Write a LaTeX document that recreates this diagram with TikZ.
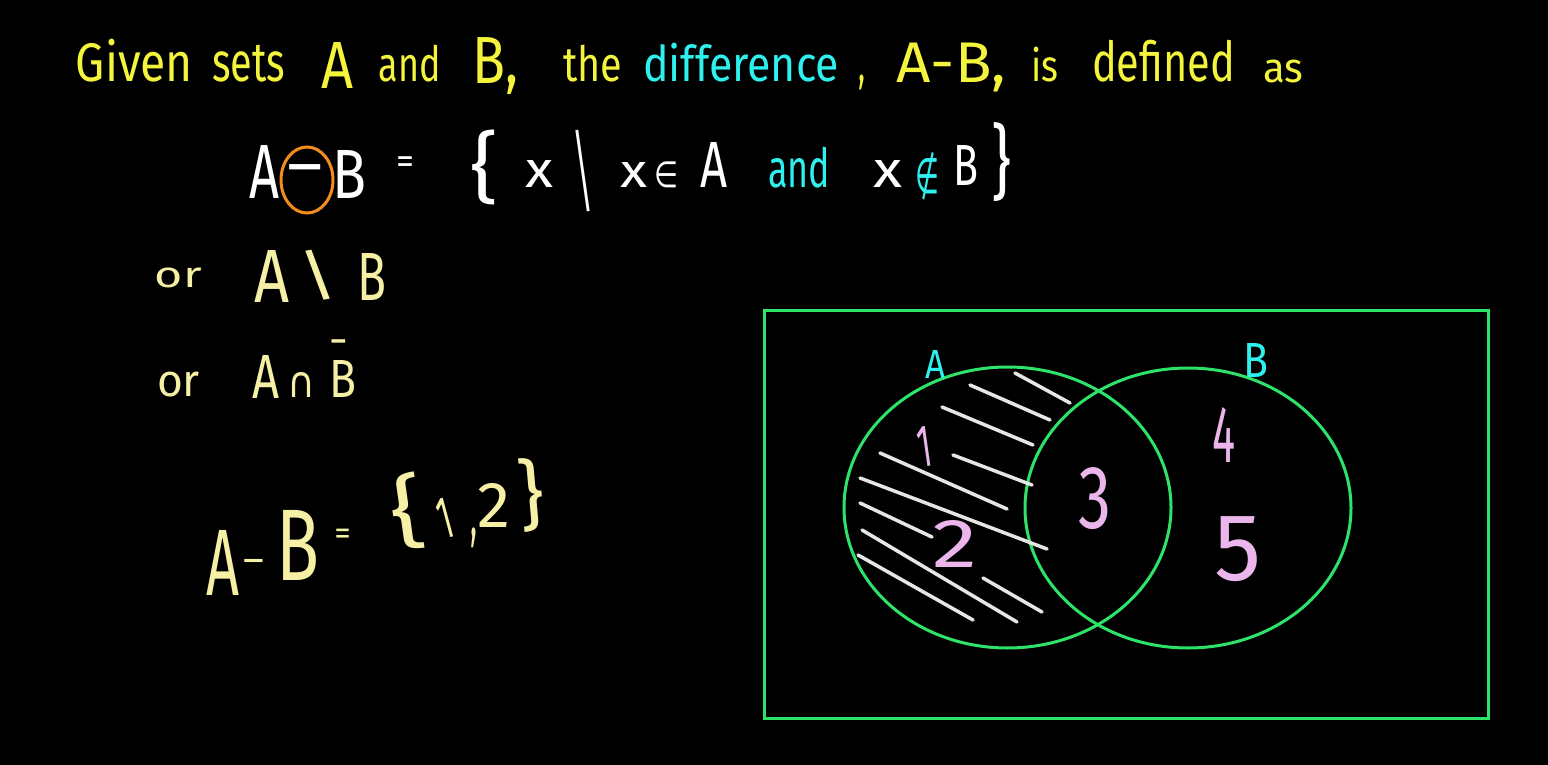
\documentclass[tikz,border=0pt]{standalone}
\usepackage{fontspec}
\setmainfont{Fira Sans}
\newfontfamily\sym{DejaVu Sans}
\usetikzlibrary{shapes.geometric}
\definecolor{hy}{HTML}{F4F43C}
\definecolor{hc}{HTML}{2EF0EE}
\definecolor{hcr}{HTML}{F6F0A6}
\definecolor{hp}{HTML}{EBB6EB}
\definecolor{hg}{HTML}{2EE36A}
\definecolor{ho}{HTML}{F28C1C}
\definecolor{hh}{HTML}{E6E6E6}
\newcommand\rb[3]{\resizebox*{#1pt}{#2pt}{#3}}
\begin{document}
\begin{tikzpicture}[x=1pt,y=-1pt,
  tx/.style={inner sep=0pt,outer sep=0pt},
  bs/.style={inner sep=0pt,outer sep=0pt,anchor=base},
  setc/.style={ellipse,draw=hg,line width=3pt,inner sep=0pt},
  hatch/.style={draw=hh,line width=3.5pt,line cap=round}]
\fill[black] (0,0) rectangle (1548,765);
\useasboundingbox (0,0) rectangle (1548,765);
% line 1
\begin{scope}[every node/.style={tx,text=hy}]
\node (given) at (134.5,61) {\rb{117}{43}{Given}};
\node (sets) at (248.5,63.5) {\rb{73}{37}{sets}};
\node (a1) at (338,65) {\rb{32}{46}{A}};
\node (and1) at (410,63.5) {\rb{62}{37}{and}};
\node (b1) at (496,66.5) {\rb{46}{57}{B,}};
\node (the) at (592.5,63.5) {\rb{59}{37}{the}};
\node[text=hc] (diff) at (741,62.5) {\rb{196}{39}{difference}};
\node (comma1) at (861.5,82.5) {\rb{7}{15}{,}};
\node (amb1) at (951.5,67.5) {\rb{109}{49}{A-B,}};
\node (is) at (1044.5,64.5) {\rb{27}{35}{is}};
\node (defined) at (1163.5,61) {\rb{143}{42}{defined}};
\node (as) at (1283,71.5) {\rb{40}{23}{as}};
\end{scope}
% line 2
\draw[ho,line width=3pt] (307,180) ellipse [x radius=26,y radius=33];
\begin{scope}[every node/.style={tx,text=white}]
\node (a2) at (265,171.5) {\rb{30}{53}{A}};
\node[bs] (minus2) at (305,188.7) {\fontsize{68}{68}\selectfont –};
\node (b2) at (350,174) {\rb{34}{48}{B}};
\node[bs] (eq2) at (405,174) {\fontsize{36}{36}\selectfont =};
\node (lbrace2) at (485,167.5) {\rb{28}{75}{\{}};
\node (x2a) at (539,173.5) {\rb{28}{27}{x}};
\node[rotate=8] (bar2) at (582.5,171) {\rb{14}{82}{|}};
\node (x2b) at (633.5,174.5) {\rb{27}{25}{x}};
\node (in2) at (666,174.5) {\rb{24}{26}{\sym ∈}};
\node (a2b) at (713.5,164.5) {\rb{27}{45}{A}};
\node[text=hc] (and2) at (799,167.5) {\rb{62}{41}{and}};
\node (x2c) at (887.5,173.5) {\rb{29}{27}{x}};
\node[text=hc] (nin2) at (927.5,176) {\rb{24}{48}{\sym ∉}};
\node (b2b) at (965.5,165) {\rb{25}{40}{B}};
\node (rbrace2) at (1001.5,162.5) {\rb{20}{79}{\}}};
\end{scope}
% or lines
\begin{scope}[every node/.style={tx,text=hcr}]
\node (or1) at (178.5,278) {\rb{47}{20}{or}};
\node (a3) at (272.5,276) {\rb{35}{52}{A}};
\node (bs3) at (317.5,275) {\rb{41}{50}{\textbackslash}};
\node (b3) at (372.5,276.5) {\rb{29}{47}{B}};
\node (or2) at (178.5,384.5) {\rb{43}{25}{or}};
\node (a4) at (266.5,376.5) {\rb{27}{43}{A}};
\node (cap4) at (301,385) {\rb{28}{25}{\sym ∩}};
\node (b4) at (343.5,378.5) {\rb{27}{37}{B}};
\node[bs] (bar4) at (339,376) {\fontsize{50}{50}\selectfont ¯};
% result
\node (a5) at (223.5,562.5) {\rb{33}{65}{A}};
\node[bs] (m5) at (254,573.6) {\fontsize{40}{40}\selectfont –};
\node (b5) at (298.5,545) {\rb{43}{70}{B}};
\node[bs] (eq5) at (342.5,544) {\fontsize{33}{33}\selectfont =};
\node[rotate=8] (lb5) at (407,512) {\rb{34}{77}{\{}};
\node[rotate=15] (one5) at (445,518) {\rb{14}{40}{1}};
\node (c5) at (473.5,538) {\rb{7}{20}{,}};
\node (two5) at (493.5,505) {\rb{33}{44}{2}};
\node[rotate=5] (rb5) at (531.5,495) {\rb{26}{74}{\}}};
\end{scope}
% venn
\draw[hg,line width=3pt] (764,310) rectangle (1488,718);
\node[setc,minimum width=327pt,minimum height=281pt] (setA) at (1007.5,507.5) {};
\node[setc,minimum width=326pt,minimum height=280pt] (setB) at (1188,508) {};
\node[tx,text=hc] (la) at (935,364) {\rb{20}{28}{A}};
\node[tx,text=hc] (lb) at (1255.5,360) {\rb{25}{34}{B}};
\begin{scope}[every node/.style={tx,text=hp}]
\node[rotate=8] (n1) at (925,447) {\rb{14}{40}{1}};
\node (n2) at (954.5,543.5) {\rb{45}{47}{2}};
\node (n3) at (1094.5,499) {\rb{33}{62}{3}};
\node (n4) at (1223.5,434.5) {\rb{23}{55}{4}};
\node (n5) at (1238,549.5) {\rb{47}{65}{5}};
\end{scope}
\draw[hatch] (1015,373) -- (1070,403);
\draw[hatch] (970,385) -- (1050,420);
\draw[hatch] (942,407) -- (1033,445);
\draw[hatch] (953,455) -- (1032,485);
\draw[hatch] (880,453) -- (1007,509);
\draw[hatch] (860,478) -- (1047,549);
\draw[hatch] (860,503) -- (932,537);
\draw[hatch] (862,530) -- (1017,622);
\draw[hatch] (858,555) -- (973,620);
\draw[hatch] (983,578) -- (1042,612);
\end{tikzpicture}
\end{document}
